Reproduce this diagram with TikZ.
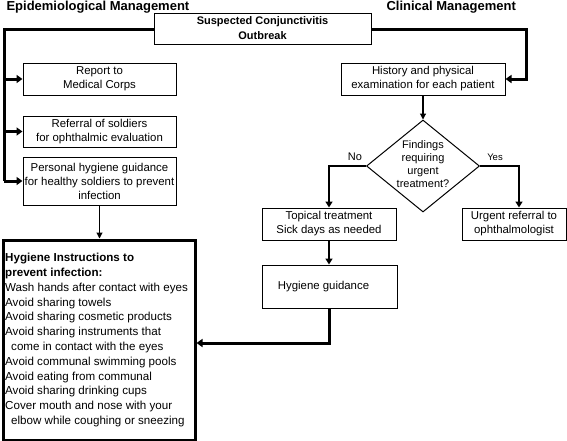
\documentclass[tikz,border=0pt]{standalone}
\usepackage{fontspec}
\setmainfont{Liberation Sans}
\usetikzlibrary{shapes.geometric,arrows.meta}
\begin{document}
\begin{tikzpicture}[x=1pt,y=-1pt,
  box/.style={draw,line width=1pt,rectangle,align=center,inner sep=1pt,font=\fontsize{11.4}{14}\selectfont},
  thick line/.style={line width=3pt},
  thickarrow/.style={line width=3pt,-{Triangle[length=6pt,width=8pt]}},
  midarrow/.style={line width=1.8pt,-{Triangle[length=6pt,width=7pt]}},
  thinarrow/.style={line width=1.1pt,-{Triangle[length=6pt,width=6pt]}},
  title/.style={font=\fontsize{13}{15}\selectfont\bfseries,anchor=west}]
\useasboundingbox (0,0) rectangle (567,440);
\node[title] (t1) at (3,7) {Epidemiological Management};
\node[title] (t2) at (383,7) {Clinical Management};
\node[box,minimum width=217pt,minimum height=31pt,font=\fontsize{11}{15}\selectfont\bfseries] (top) at (262.5,28.5) {Suspected Conjunctivitis\\Outbreak};
\node[box,minimum width=153pt,minimum height=32pt] (rep) at (99.5,79) {Report to\\Medical Corps};
\node[box,minimum width=153pt,minimum height=31pt] (ref) at (99.5,131.5) {Referral of soldiers\\for ophthalmic evaluation};
\node[box,minimum width=153pt,minimum height=48pt] (per) at (99.5,181) {Personal hygiene guidance\\for healthy soldiers to prevent\\infection};
\node[draw,line width=3pt,rectangle,minimum width=192pt,minimum height=200pt,anchor=north west] (big) at (1.5,238.5) {};
\node[anchor=north west,align=left,inner sep=0pt,font=\fontsize{11.6}{14.8}\selectfont] (bigtext) at (5,253) {\textbf{Hygiene Instructions to}\\\textbf{prevent infection:}\\Wash hands after contact with eyes\\Avoid sharing towels\\Avoid sharing cosmetic products\\Avoid sharing instruments that\\\hspace*{6pt}come in contact with the eyes\\Avoid communal swimming pools\\Avoid eating from communal\\Avoid sharing drinking cups\\Cover mouth and nose with your\\\hspace*{6pt}elbow while coughing or sneezing};
\node[box,minimum width=164pt,minimum height=32pt] (his) at (423,79) {History and physical\\examination for each patient};
\node[diamond,draw,line width=1pt,minimum width=113pt,minimum height=92pt,inner sep=0pt] (dia) at (423,166) {};
\node[align=center,inner sep=0pt,font=\fontsize{11}{13}\selectfont] (diatext) at (423,164.5) {Findings\\requiring\\urgent\\treatment?};
\node[box,minimum width=134pt,minimum height=32pt] (top1) at (329,224) {Topical treatment\\Sick days as needed};
\node[box,minimum width=104pt,minimum height=32pt] (urg) at (514,224) {Urgent referral to\\ophthalmologist};
\node[box,minimum width=135pt,minimum height=43pt] (hyg) at (329.5,286.5) {\hspace*{-12pt}Hygiene guidance};
\node[font=\fontsize{11}{13}\selectfont] (no) at (355,157) {No};
\node[font=\fontsize{9.5}{11}\selectfont] (yes) at (495,157) {Yes};
\coordinate (lc) at (4,29);
\coordinate (rc) at (526,29);
% left trunk
\draw[thick line,line cap=butt] (top.west |- lc) -- (lc) -- (4,181);
\draw[thickarrow] (4,181) -- (per.west);
\draw[thickarrow] (4,79) -- (rep.west);
\draw[thickarrow] (4,131.5) -- (ref.west);
% right
\draw[thickarrow] (top.east |- rc) -- (rc) -- (526,79) -- (his.east);
\draw[thinarrow] (per.south) -- (big.north -| per.south);
\draw[thinarrow] (his.south) -- (dia.north);
\draw[midarrow] (dia.west) -- (329,166) -- (top1.north);
\draw[midarrow] (dia.east) -- (519,166) -- (urg.north -| 519,0);
\draw[midarrow] (top1.south) -- (hyg.north -| top1.south);
\draw[thickarrow] (hyg.south) -- (329.5,343) -- (big.east |- 0,343);
\end{tikzpicture}
\end{document}
